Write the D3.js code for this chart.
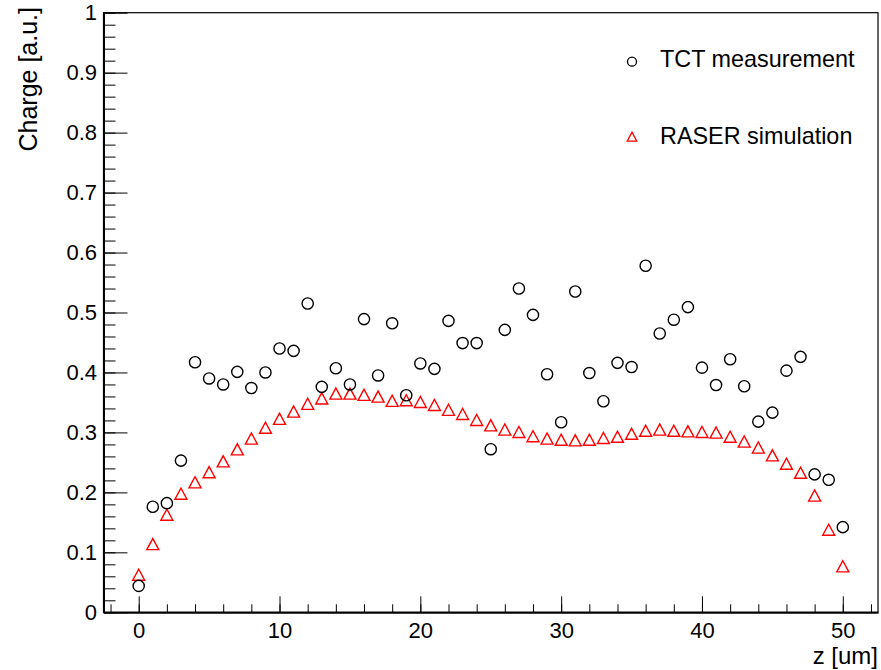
<!DOCTYPE html>
<html>
<head>
<meta charset="utf-8">
<script src="https://cdn.jsdelivr.net/npm/d3@7"></script>
<style>
  body { margin: 0; background: #fff; }
  text { font-family: "Liberation Sans", Arial, Helvetica, sans-serif; }
</style>
</head>
<body>
<div id="container"></div>
<script>
const width = 881,
  height = 670,
  margin = { top: 12.7, bottom: 57.7, left: 103.5, right: 3 };

// z positions [um]
const zPos = d3.range(0, 51);

// TCT measurement
const tctCharge = [
  0.044, 0.176, 0.182, 0.253, 0.417, 0.390, 0.380, 0.401, 0.374, 0.400,
  0.440, 0.436, 0.515, 0.376, 0.407, 0.380, 0.489, 0.395, 0.482, 0.362,
  0.415, 0.406, 0.486, 0.449, 0.449, 0.272, 0.471, 0.540, 0.496, 0.397,
  0.317, 0.535, 0.399, 0.352, 0.416, 0.409, 0.578, 0.465, 0.488, 0.509,
  0.408, 0.379, 0.422, 0.377, 0.318, 0.333, 0.403, 0.426, 0.230, 0.221,
  0.142
];

// RASER simulation
const raserCharge = [
  0.062, 0.113, 0.162, 0.197, 0.216, 0.233, 0.251, 0.271, 0.289, 0.307,
  0.322, 0.334, 0.347, 0.356, 0.364, 0.364, 0.362, 0.359, 0.352, 0.353,
  0.350, 0.345, 0.337, 0.330, 0.320, 0.311, 0.304, 0.300, 0.293, 0.289,
  0.287, 0.286, 0.287, 0.290, 0.292, 0.297, 0.302, 0.304, 0.302, 0.301,
  0.300, 0.299, 0.292, 0.284, 0.274, 0.261, 0.247, 0.232, 0.194, 0.137,
  0.076
];

const legendLabels = ["TCT measurement", "RASER simulation"];

const xScale = d3.scaleLinear()
  .domain([-2.5, 52.5])
  .range([margin.left, width - margin.right]);

const yScale = d3.scaleLinear()
  .domain([0, 1])
  .range([height - margin.bottom, margin.top]);

const svg = d3.select("#container")
  .append("svg")
  .attr("width", width)
  .attr("height", height);

// frame
svg.append("rect")
  .attr("x", xScale.range()[0])
  .attr("y", yScale.range()[1])
  .attr("width", xScale.range()[1] - xScale.range()[0])
  .attr("height", yScale.range()[0] - yScale.range()[1])
  .attr("fill", "none")
  .attr("stroke", "#000")
  .attr("stroke-width", 1.2);

// x axis: minor then major (ticks point inside)
const xMinor = d3.range(-2, 53, 2);
svg.append("g")
  .attr("transform", `translate(0, ${yScale(0)})`)
  .call(d3.axisBottom(xScale).tickValues(xMinor).tickFormat("").tickSize(-8).tickSizeOuter(0))
  .call(g => g.select(".domain").remove());

const xAxis = svg.append("g")
  .attr("transform", `translate(0, ${yScale(0)})`)
  .call(d3.axisBottom(xScale).tickValues([0, 10, 20, 30, 40, 50]).tickSize(-16).tickSizeOuter(0).tickPadding(10.5));
xAxis.select(".domain").attr("stroke-width", 2);
xAxis.selectAll("text").attr("font-size", 22).attr("fill", "#000");

// y axis
const yMinor = d3.range(0, 1.001, 0.02);
svg.append("g")
  .attr("transform", `translate(${xScale(-2.5)}, 0)`)
  .call(d3.axisLeft(yScale).tickValues(yMinor).tickFormat("").tickSize(-12).tickSizeOuter(0))
  .call(g => g.select(".domain").remove());

const yAxis = svg.append("g")
  .attr("transform", `translate(${xScale(-2.5)}, 0)`)
  .call(d3.axisLeft(yScale).tickValues(d3.range(0, 1.001, 0.1)).tickSize(-24).tickSizeOuter(0).tickPadding(6.5)
    .tickFormat(d => d3.format("~g")(+d.toFixed(1))));
yAxis.select(".domain").attr("stroke-width", 2);
yAxis.selectAll("text").attr("font-size", 22).attr("fill", "#000");

// axis titles
svg.append("text")
  .attr("x", width - 3)
  .attr("y", 664)
  .attr("text-anchor", "end")
  .attr("font-size", 24)
  .text("z [um]");

svg.append("text")
  .attr("transform", "translate(37, 7) rotate(-90)")
  .attr("text-anchor", "end")
  .attr("font-size", 25)
  .text("Charge [a.u.]");

// triangle path helper
const tri = (cx, cy, s) => `M${cx - s},${cy + s * 0.85}L${cx + s},${cy + s * 0.85}L${cx},${cy - s}Z`;

const tct = zPos.map((z, i) => ({ z, v: tctCharge[i] }));
const raser = zPos.map((z, i) => ({ z, v: raserCharge[i] }));

svg.selectAll(".raser")
  .data(raser)
  .join("path")
  .attr("class", "raser")
  .attr("d", d => tri(xScale(d.z), yScale(d.v), 6))
  .attr("fill", "none")
  .attr("stroke", "#ff0000")
  .attr("stroke-width", 1.4);

svg.selectAll(".tct")
  .data(tct)
  .join("circle")
  .attr("class", "tct")
  .attr("cx", d => xScale(d.z))
  .attr("cy", d => yScale(d.v))
  .attr("r", 5.6)
  .attr("fill", "none")
  .attr("stroke", "#000")
  .attr("stroke-width", 1.4);

// legend
const legend = svg.append("g");
legend.append("circle")
  .attr("cx", 632).attr("cy", 61.7).attr("r", 4.5)
  .attr("fill", "none").attr("stroke", "#000").attr("stroke-width", 1.3);
legend.append("path")
  .attr("d", tri(632, 137, 4.8))
  .attr("fill", "none").attr("stroke", "#ff0000").attr("stroke-width", 1.3);
legend.selectAll(".lbl")
  .data(legendLabels)
  .join("text")
  .attr("class", "lbl")
  .attr("x", 660)
  .attr("y", (d, i) => i === 0 ? 66.5 : 143.5)
  .attr("font-size", 23.4)
  .text(d => d);
</script>
</body>
</html>
